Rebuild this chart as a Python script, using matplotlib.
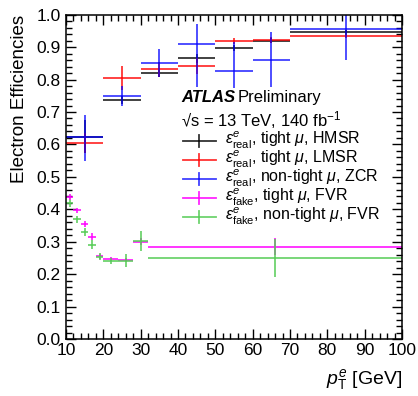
import numpy as np
import matplotlib
matplotlib.use("Agg")
import matplotlib.pyplot as plt
from matplotlib.ticker import MultipleLocator

plt.rcParams['font.family'] = ['Liberation Sans', 'DejaVu Sans']
plt.rcParams['mathtext.fontset'] = 'custom'
plt.rcParams['mathtext.rm'] = 'Liberation Sans'
plt.rcParams['mathtext.it'] = 'Liberation Sans:italic'
plt.rcParams['mathtext.bf'] = 'Liberation Sans:bold'

# Real-electron efficiency bins (pT in GeV)
real_edges = [10, 20, 30, 40, 50, 60, 70, 100]
real_hmsr = [0.624, 0.737, 0.819, 0.865, 0.898, 0.920, 0.946]
real_hmsr_err = [0.050, 0.012, 0.010, 0.015, 0.010, 0.008, 0.008]
real_lmsr = [0.605, 0.805, 0.832, 0.843, 0.919, 0.922, 0.934]
real_lmsr_err = [0.030, 0.036, 0.023, 0.025, 0.010, 0.008, 0.006]
real_zcr = [0.622, 0.749, 0.852, 0.909, 0.827, 0.859, 0.956]
real_zcr_err_lo = [0.072, 0.030, 0.043, 0.133, 0.054, 0.083, 0.096]
real_zcr_err_hi = [0.069, 0.030, 0.043, 0.062, 0.090, 0.089, 0.050]

# Fake-electron efficiency bins
fake_edges = [10, 12, 14, 16, 18, 20, 24, 28, 32, 100]
fake_tight = [0.438, 0.397, 0.355, 0.316, 0.255, 0.246, 0.243, 0.300, 0.284]
fake_tight_err = [0.008, 0.008, 0.009, 0.010, 0.008, 0.006, 0.006, 0.010, 0.026]
fake_nontight = [0.418, 0.369, 0.329, 0.291, 0.254, 0.241, 0.241, 0.302, 0.250]
fake_nontight_err = [0.010, 0.011, 0.012, 0.014, 0.010, 0.010, 0.020, 0.030, 0.058]

labels = [
    r'$\varepsilon^{e}_{\mathrm{real}}$, tight $\mu$, HMSR',
    r'$\varepsilon^{e}_{\mathrm{real}}$, tight $\mu$, LMSR',
    r'$\varepsilon^{e}_{\mathrm{real}}$, non-tight $\mu$, ZCR',
    r'$\varepsilon^{e}_{\mathrm{fake}}$, tight $\mu$, FVR',
    r'$\varepsilon^{e}_{\mathrm{fake}}$, non-tight $\mu$, FVR',
]
colors = ['#000000', '#ff0000', '#0000ff', '#ff00ff', '#55cc55']
alphas = [0.8, 0.8, 0.75, 0.85, 0.85]


def centers_halfwidths(edges):
    e = np.asarray(edges, dtype=float)
    return 0.5 * (e[1:] + e[:-1]), 0.5 * (e[1:] - e[:-1])


fig = plt.figure(figsize=(4.18, 3.96), dpi=100)
ax = fig.add_axes([66 / 418, 1 - 339 / 396, 336 / 418, 324.3 / 396])

xr, xre = centers_halfwidths(real_edges)
xf, xfe = centers_halfwidths(fake_edges)

series = [
    (xr, real_hmsr, xre, real_hmsr_err),
    (xr, real_lmsr, xre, real_lmsr_err),
    (xr, real_zcr, xre, [real_zcr_err_lo, real_zcr_err_hi]),
    (xf, fake_tight, xfe, fake_tight_err),
    (xf, fake_nontight, xfe, fake_nontight_err),
]
lw = 1.3
for (x, y, xe, ye), c, a in zip(series, colors, alphas):
    ax.errorbar(x, y, xerr=xe, yerr=ye, fmt='none', ecolor=c,
                elinewidth=lw, capsize=0, alpha=a)

ax.set_xlim(10, 100)
ax.set_ylim(0.0, 1.0)
ax.xaxis.set_major_locator(MultipleLocator(10))
ax.xaxis.set_minor_locator(MultipleLocator(2))
ax.yaxis.set_major_locator(MultipleLocator(0.1))
ax.yaxis.set_minor_locator(MultipleLocator(0.02))
ax.yaxis.set_major_formatter(matplotlib.ticker.FormatStrFormatter('%.1f'))
ax.tick_params(which='both', direction='in', top=True, right=True,
               labelsize=12.5, width=1.0)
ax.tick_params(which='major', length=7)
ax.tick_params(which='minor', length=4)
ax.tick_params(axis='x', pad=3)
ax.tick_params(axis='y', pad=4)
for s in ax.spines.values():
    s.set_linewidth(1.1)

ax.set_ylabel('Electron Efficiencies', fontsize=13.5, loc='top', labelpad=6)
ax.set_xlabel(r'$p_{\mathrm{T}}^{e}$ [GeV]', fontsize=14, loc='right', labelpad=6)

# ATLAS label
tx = 0.342
ax.text(tx, 0.746, 'ATLAS', transform=ax.transAxes, fontsize=12,
        fontweight='bold', fontstyle='italic', va='center', ha='left')
ax.text(tx + 0.170, 0.746, 'Preliminary', transform=ax.transAxes,
        fontsize=12, va='center', ha='left')
ax.text(tx, 0.675, '√s = 13 TeV, 140 fb$^{-1}$', transform=ax.transAxes,
        fontsize=12, va='center', ha='left')

# Legend rows
y0, dy = 0.611, 0.0586
for i, (lab, c, a) in enumerate(zip(labels, colors, alphas)):
    yy = y0 - i * dy
    ax.plot([0.348, 0.446], [yy, yy], color=c, lw=lw, alpha=a,
            transform=ax.transAxes, clip_on=False)
    ax.plot([0.397, 0.397], [yy - 0.019, yy + 0.019], color=c, lw=lw,
            alpha=a, transform=ax.transAxes, clip_on=False)
    ax.text(0.473, yy, lab, transform=ax.transAxes, fontsize=11.5,
            va='center', ha='left')

fig.savefig('out.png', dpi=100)
